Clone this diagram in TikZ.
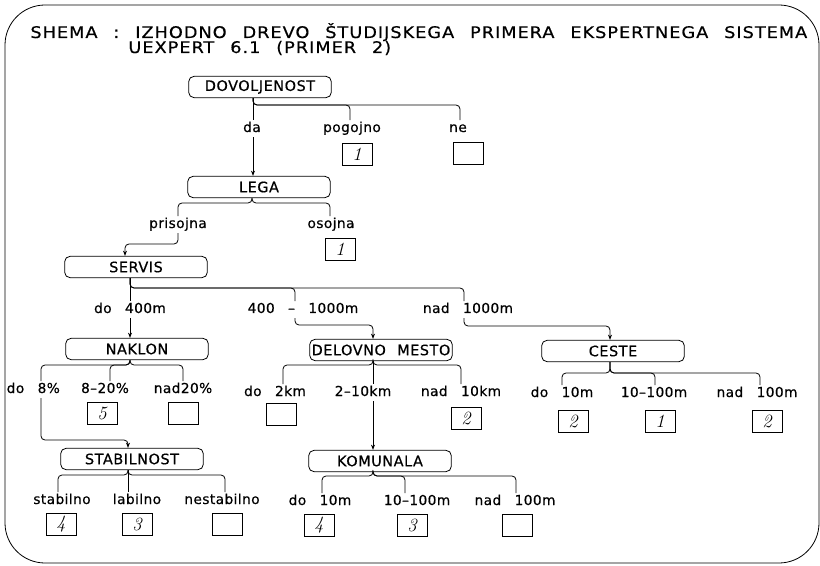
\documentclass[tikz,border=0pt]{standalone}
\usepackage{fontspec}
\usetikzlibrary{arrows.meta}
\newfontfamily\plotfont{DejaVu Sans}[LetterSpace=4,WordSpace=2.2,FakeBold=0.5]
\newfontfamily\labelfont{DejaVu Sans}[LetterSpace=3,WordSpace=2.8,FakeBold=0.5]
\newfontfamily\titlefont{DejaVu Sans}[LetterSpace=6,WordSpace=2.4,FakeStretch=1.11,FakeBold=0.5]

\tikzset{
  attr/.style={draw, rounded corners=4pt, minimum width=107pt, minimum height=16pt,
    inner sep=0pt, font=\plotfont\fontsize{10.8}{10.8}\selectfont},
  val/.style={anchor=base, inner sep=1pt, text height=7.6pt, text depth=2.5pt,
    font=\labelfont\fontsize{10.3}{10.3}\selectfont},
  res/.style={draw, minimum width=22.5pt, minimum height=16.5pt, inner sep=0pt,
    font=\fontsize{14}{14}\selectfont\itshape},
  brace/.style={rounded corners=3pt},
  link/.style={rounded corners=3pt, -{Stealth[length=4pt,width=3pt]}}
}

\begin{document}
\begin{tikzpicture}[x=0.75pt, y=-0.75pt, line width=0.6pt]
    \useasboundingbox (0,0) rectangle (820,566);
    % Frame
    \draw[rounded corners=30pt] (5,5) rectangle (819,563);

    % Title
    \node[anchor=base west, inner sep=0pt, font=\titlefont\fontsize{12}{12}\selectfont]
        (title) at (30,38) {SHEMA : IZHODNO DREVO ŠTUDIJSKEGA PRIMERA EKSPERTNEGA SISTEMA};
    \node[anchor=base west, inner sep=0pt, font=\titlefont\fontsize{12}{12}\selectfont]
        (subtitle) at (128,53) {UEXPERT 6.1 (PRIMER 2)};

    % Attributes
    \node[attr] (dovoljenost) at (260,87) {DOVOLJENOST};
    \node[attr] (lega) at (259,187) {LEGA};
    \node[attr] (servis) at (136,267) {SERVIS};
    \node[attr] (naklon) at (137,349) {NAKLON};
    \node[attr] (delovno) at (381,350) {DELOVNO MESTO};
    \node[attr] (ceste) at (613,351) {CESTE};
    \node[attr] (stabilnost) at (132,459) {STABILNOST};
    \node[attr] (komunala) at (380,461) {KOMUNALA};

    % Values
    \node[val] (da) at (252,132) {da};
    \node[val] (pogojno) at (352,132) {pogojno};
    \node[val] (ne) at (458,132) {ne};
    \node[val] (prisojna) at (178,228) {prisojna};
    \node[val] (osojna) at (331,228) {osojna};
    \node[val] (s400) at (130,313) {do 400m};
    \node[val] (s1000) at (303,313) {400 – 1000m};
    \node[val] (snad) at (468,313) {nad 1000m};
    \node[val, anchor=base west] (n8) at (5,393) {do 8\%};
    \node[val] (n20) at (105,393) {8–20\%};
    \node[val] (nnad) at (183,393) {nad20\%};
    \node[val] (d2) at (275,396) {do 2km};
    \node[val] (d10) at (363,396) {2–10km};
    \node[val] (dnad) at (461,396) {nad 10km};
    \node[val] (c10) at (562,397) {do 10m};
    \node[val] (c100) at (654,397) {10–100m};
    \node[val] (cnad) at (757,397) {nad 100m};
    \node[val] (stab) at (62,504) {stabilno};
    \node[val] (lab) at (137,504) {labilno};
    \node[val] (nestab) at (222,504) {nestabilno};
    \node[val] (k10) at (320,505) {do 10m};
    \node[val] (k100) at (417,505) {10–100m};
    \node[val] (knad) at (515,505) {nad 100m};

    % Results
    \node[res] (rPogojno) at (357,154) {1};
    \node[res] (rNe) at (468,153) {};
    \node[res] (rOsojna) at (340,249) {1};
    \node[res] (r20) at (102,413) {5};
    \node[res] (rNad20) at (183,413) {};
    \node[res] (r2km) at (281,414) {};
    \node[res] (r10km) at (466,418) {2};
    \node[res] (rC10) at (573,421) {2};
    \node[res] (rC100) at (660,421) {1};
    \node[res] (rCnad) at (767,421) {2};
    \node[res] (rStab) at (61,524) {4};
    \node[res] (rLab) at (137,524) {3};
    \node[res] (rNestab) at (227,524) {};
    \node[res] (rK10) at (319,525) {4};
    \node[res] (rK100) at (412,525) {3};
    \node[res] (rKnad) at (517,525) {};

    % DOVOLJENOST branches
    \draw (dovoljenost.south -| 253,0) -- (da.north -| 253,0);
    \draw[brace] (dovoljenost.south -| 253,0) -- (253,105) -| (pogojno.north -| 350,0);
    \draw[brace] (dovoljenost.south -| 253,0) -- (253,105) -| (ne.north -| 460,0);
    \draw[link] (da.south -| 253,0) -- (lega.north -| 253,0);

    % LEGA branches
    \draw[brace] (lega.south -| 252,0) -- (252,203) -| (prisojna.north -| 178,0);
    \draw[brace] (lega.south -| 252,0) -- (252,203) -| (osojna.north -| 330,0);
    \draw[link] (prisojna.south -| 178,0) -- (178,244) -| (servis.north -| 125,0);

    % SERVIS branches
    \draw (servis.south -| 130,0) -- (s400.north -| 130,0);
    \draw[brace] (servis.south -| 130,0) -- (130,288) -| (s1000.north -| 295,0);
    \draw[brace] (servis.south -| 130,0) -- (130,288) -| (snad.north -| 464,0);
    \draw[link] (s400.south -| 130,0) -- (naklon.north -| 130,0);
    \draw[link] (s1000.south -| 295,0) -- (295,325) -| (delovno.north -| 373,0);
    \draw[link] (snad.south -| 464,0) -- (464,326) -| (ceste.north -| 610,0);

    % NAKLON branches
    \draw[brace] (naklon.south -| 130,0) -- (130,365) -| (n8.north -| 41,0);
    \draw[brace] (naklon.south -| 130,0) -- (130,365) -| (n20.north -| 110,0);
    \draw[brace] (naklon.south -| 130,0) -- (130,365) -| (nnad.north -| 183,0);
    \draw[link] (n8.south -| 41,0) -- (41,440) -| (stabilnost.north -| 128,0);

    % DELOVNO MESTO branches
    \draw[brace] (delovno.south -| 373,0) -- (373,365) -| (d2.north -| 283,0);
    \draw (delovno.south -| 373,0) -- (d10.north -| 373,0);
    \draw[brace] (delovno.south -| 373,0) -- (373,365) -| (dnad.north -| 461,0);
    \draw[link] (d10.south -| 373,0) -- (komunala.north -| 373,0);

    % CESTE branches
    \draw[brace] (ceste.south -| 610,0) -- (610,373) -| (c10.north -| 562,0);
    \draw[brace] (ceste.south -| 610,0) -- (610,373) -| (c100.north -| 655,0);
    \draw[brace] (ceste.south -| 610,0) -- (610,373) -| (cnad.north -| 760,0);

    % STABILNOST branches
    \draw[brace] (stabilnost.south -| 128,0) -- (128,475) -| (stab.north -| 58,0);
    \draw (stabilnost.south -| 128,0) -- (lab.north -| 128,0);
    \draw[brace] (stabilnost.south -| 128,0) -- (128,475) -| (nestab.north -| 225,0);

    % KOMUNALA branches
    \draw[brace] (komunala.south -| 373,0) -- (373,476) -| (k10.north -| 322,0);
    \draw[brace] (komunala.south -| 373,0) -- (373,476) -| (k100.north -| 405,0);
    \draw[brace] (komunala.south -| 373,0) -- (373,476) -| (knad.north -| 516,0);
\end{tikzpicture}
\end{document}
